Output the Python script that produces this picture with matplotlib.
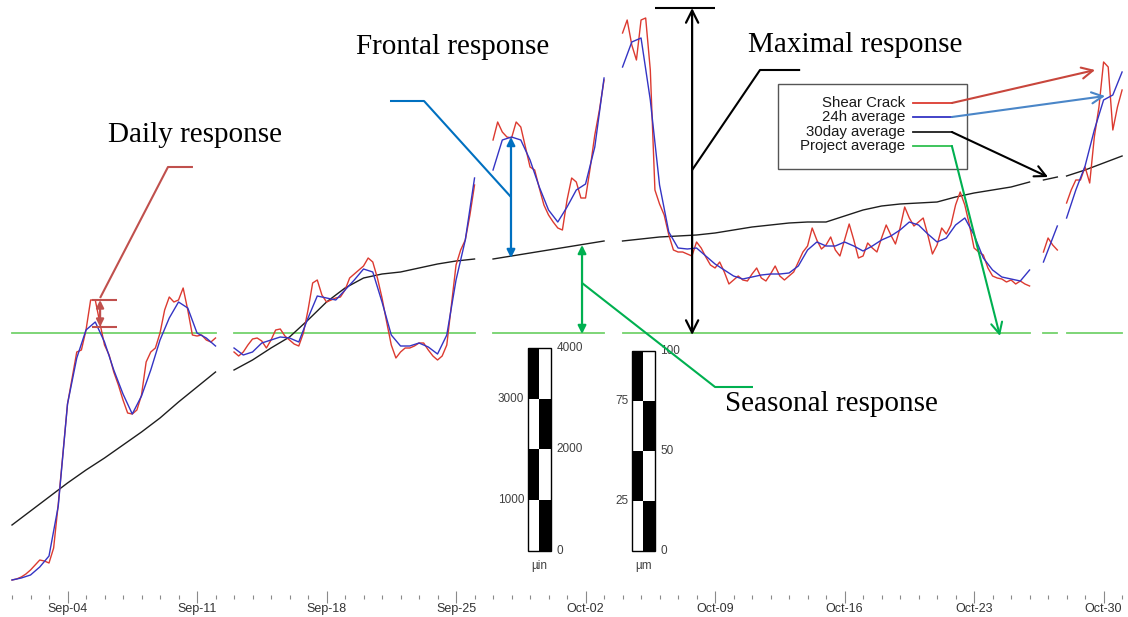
import datetime as dt

import numpy as np
import matplotlib
matplotlib.use("Agg")
import matplotlib.pyplot as plt
import matplotlib.dates as mdates
from matplotlib.patches import Rectangle

START = dt.datetime(2016, 9, 1)

# logger gaps split the record into these spans (days after Sep-01)
spans = [(0.0, 11.0), (12.0, 25.0), (26.0, 32.0), (33.0, 55.0),
         (55.75, 56.5), (57.0, 60.0)]

# shear crack opening, 6-hourly readings (um)
crack_a = [-1, -0.5, 0.5, 2, 4, 6.5, 9, 8.5, 7.5, 15, 37, 62, 87, 100, 113,
           114, 124, 139, 139, 127.5, 116.5, 111.5, 103, 96.5, 89, 82.5, 82,
           84, 91.5, 108, 113, 115, 122.5, 134, 140.5, 138, 139, 145, 134,
           121.5, 121, 121.5, 119, 118, 120]
crack_b = [113, 111, 113, 116.5, 119.5, 120, 118.5, 115, 119, 124, 124.5,
           121, 119, 117, 116, 122.5, 134, 147.5, 149, 141.5, 138, 139, 140,
           140.5, 144, 150, 152, 154, 156, 160, 158, 150, 140, 128, 116.5,
           110, 113, 115, 115, 116, 117.5, 117.5, 114, 111, 109, 111, 116.5,
           136.5, 156.5, 164, 169, 181.5, 196.5]
crack_c = [219, 228, 223, 220.5, 220, 228, 225.5, 215.5, 205.5, 204, 195,
           186.5, 181.5, 178, 175, 174, 189, 200, 198, 190, 190, 205, 221.5,
           234, 249]
crack_d = [272.5, 279, 266.5, 259, 279, 280, 254, 194, 187, 181.5, 171.5,
           164, 163, 163, 162, 161, 168, 165, 160.5, 156.5, 155, 158, 153,
           147, 149, 151, 149, 148.5, 152, 155, 150, 148.5, 152, 156, 151,
           149, 151, 153, 158, 163, 166, 175, 169, 164.5, 166.5, 170.5, 164,
           161, 169, 177, 169, 160, 161, 167.5, 165, 163, 170, 176.5, 171.5,
           167, 175, 185.5, 180, 176, 178, 180, 171.5, 162, 166.5, 175, 172,
           176.5, 186.5, 193, 186.5, 176.5, 165, 163, 161.5, 155, 151, 150,
           149.5, 148, 149, 147, 148.5, 147, 146]
crack_e = [163, 170, 166.5, 164]
crack_f = [187.5, 194, 199, 199, 205.5, 197.5, 220.5, 235.5, 258, 255.5,
           224, 235.5, 244]

# 24h moving average, 12-hourly (um)
avg24_a = [-1, 0, 1.5, 5.5, 11, 36, 87, 110, 124, 128, 118, 104, 92, 82, 91,
           104, 119, 130, 138, 135, 122.5, 120, 116]
avg24_b = [115, 111.5, 113, 117.5, 119, 120.5, 120, 118, 130, 141, 140, 139,
           144, 149, 154.5, 153, 138, 121.5, 116, 116, 117.5, 115.5, 112,
           121.5, 149, 169, 200]
avg24_c = [204, 219, 220.5, 219, 209, 195.5, 184, 178, 185.5, 194, 197,
           215.5, 250]
avg24_d = [255.5, 268, 270, 239, 196.5, 173, 165, 164.5, 165, 161, 157, 154,
           151, 149.5, 150.5, 151.5, 152, 152, 152.5, 156, 164, 168, 166,
           166, 168, 166, 163.5, 166, 169, 171, 174, 178, 176.5, 172, 168,
           170, 176.5, 180, 171.5, 160, 154, 150.5, 149.5, 148.5, 154]
avg24_e = [158, 164, 170, 176]
avg24_f = [180, 194, 206, 224, 239, 241.5, 253]

# 30 day moving average, daily (um)
avg30_a = [26.5, 33.5, 40.5, 47.5, 54, 60, 66.5, 73, 80, 88, 95.5, 103]
avg30_b = [104, 109, 115, 120.5, 129, 138, 145, 150, 152, 153, 155, 157,
           158.5, 159.5]
avg30_c = [159.5, 161, 162.5, 164, 165.5, 167, 168.5]
avg30_d = [168.5, 169.5, 170.5, 171, 171.5, 172.5, 174, 175.5, 176.5, 177.5,
           178, 178, 181, 184, 186, 187, 187.5, 188, 190.5, 192.5, 194,
           195.5, 198]
avg30_e = [199, 200.5]
avg30_f = [201, 204, 207.5, 211]

project_avg = 122.5

crack = [crack_a, crack_b, crack_c, crack_d, crack_e, crack_f]
avg24 = [avg24_a, avg24_b, avg24_c, avg24_d, avg24_e, avg24_f]
avg30 = [avg30_a, avg30_b, avg30_c, avg30_d, avg30_e, avg30_f]

# scale bar ticks
bar_uin = [0, 1000, 2000, 3000, 4000]
bar_um = [0, 25, 50, 75, 100]
UM_PER_UIN = 0.0254

RED = "#dc3a30"
BLUE = "#3434c4"
BLACK = "#1e1e1e"
GREEN = "#74d26c"


def day(d):
    return START + dt.timedelta(days=float(d))


def stamps(span, n):
    return [day(d) for d in np.linspace(span[0], span[1], n)]


plt.rcParams["font.family"] = ["Liberation Sans", "DejaVu Sans"]

fig = plt.figure(figsize=(11.28, 6.17), dpi=100)
ax = fig.add_axes([0, 20.5 / 617, 1, 596.5 / 617])

for span, r, b, k in zip(spans, crack, avg24, avg30):
    ax.plot(stamps(span, 2), [project_avg] * 2, color=GREEN, lw=1.3, zorder=2)
    ax.plot(stamps(span, len(k)), k, color=BLACK, lw=1.0, zorder=2)
    ax.plot(stamps(span, len(r)), r, color=RED, lw=1.0, zorder=3)
    ax.plot(stamps(span, len(b)), b, color=BLUE, lw=1.0, zorder=4)

ax.set_xlim(day(-0.649), day(60.32))
ax.set_ylim(-9.25, 289)
for s in ax.spines.values():
    s.set_visible(False)
ax.set_yticks([])
ax.xaxis.set_major_locator(mdates.WeekdayLocator(byweekday=mdates.SU))
ax.xaxis.set_minor_locator(mdates.DayLocator())
ax.xaxis.set_major_formatter(mdates.DateFormatter("%b-%d"))
ax.tick_params(axis="x", which="major", direction="inout", length=8,
               width=0.8, color="#8a8a8a", labelsize=9, labelcolor="#333333",
               pad=1)
ax.tick_params(axis="x", which="minor", direction="inout", length=3,
               width=0.8, color="#8a8a8a")


# checkerboard scale bars
def scale_bar(left, height, ticks, label):
    width = 1.24
    base = 13.5
    cell = height / 4
    for row in range(4):
        for col in range(2):
            black = (row % 2 == 1) if col == 0 else (row % 2 == 0)
            ax.add_patch(Rectangle((mdates.date2num(day(left + col * width / 2)),
                                    base + row * cell), width / 2, cell,
                                   facecolor="black" if black else "white",
                                   edgecolor="none", zorder=5))
    ax.add_patch(Rectangle((mdates.date2num(day(left)), base), width, height,
                           facecolor="none", edgecolor="black", lw=1.0,
                           zorder=6))
    for i, t in enumerate(ticks):
        y = base + i * cell
        if i % 2 == 0:
            ax.text(day(left + width + 0.3), y, str(t), ha="left",
                    va="center", fontsize=8.5, color="#404040")
        else:
            ax.text(day(left - 0.2), y, str(t), ha="right", va="center",
                    fontsize=8.5, color="#404040")
    ax.text(day(left + width / 2), base - 7.5, label, ha="center",
            va="center", fontsize=8.5, color="#404040")


scale_bar(27.89, bar_uin[-1] * UM_PER_UIN, bar_uin, "µin")
scale_bar(33.51, bar_um[-1], bar_um, "µm")

serif = ["Liberation Serif", "DejaVu Serif"]


def leader(points, color):
    ax.plot([day(p[0]) for p in points], [p[1] for p in points],
            color=color, lw=1.5, zorder=7, solid_capstyle="butt")


def double_arrow(x, y0, y1, color, style="<|-|>", scale=12):
    ax.annotate("", xy=(day(x), y0), xytext=(day(x), y1),
                arrowprops=dict(arrowstyle=style, color=color, lw=1.6,
                                mutation_scale=scale, shrinkA=0, shrinkB=0),
                zorder=7)


# daily response
c = "#c0504d"
ax.text(day(9.9), 221.5, "Daily response", family=serif, fontsize=21,
        ha="center", va="center")
leader([(9.78, 205.5), (8.43, 205.5), (4.76, 140)], c)
leader([(4.32, 139), (5.68, 139)], c)
leader([(4.32, 125.5), (5.68, 125.5)], c)
double_arrow(4.76, 139, 125.5, c, scale=11)

# frontal response
c = "#0070c0"
ax.text(day(23.84), 265.5, "Frontal response", family=serif, fontsize=21,
        ha="center", va="center")
leader([(20.43, 238.5), (22.27, 238.5), (26.97, 190.5)], c)
double_arrow(26.97, 220.5, 160, c)

# maximal response
c = "black"
ax.text(day(45.57), 266.5, "Maximal response", family=serif, fontsize=21,
        ha="center", va="center")
leader([(42.6, 254), (40.43, 254), (36.76, 204)], c)
leader([(34.76, 285), (38.0, 285)], c)
double_arrow(36.76, 285, 121.5, c, style="<->", scale=22)

# seasonal response
c = "#00b050"
ax.text(day(44.3), 87, "Seasonal response", family=serif, fontsize=21,
        ha="center", va="center")
leader([(30.81, 147.5), (38.0, 95.5), (40.05, 95.5)], c)
double_arrow(30.81, 166.5, 122, c)

# legend box with pointers to each series
ax.add_patch(Rectangle((mdates.date2num(day(41.4)), 204.5), 10.2, 42.5,
                       facecolor="white", edgecolor="#555555", lw=1.0,
                       zorder=6))
entries = [("Shear Crack", RED, 237.5, "#c8463c", (58.54, 254)),
           ("24h average", BLUE, 230.5, "#4a86c8", (59.08, 241)),
           ("30day average", BLACK, 223.0, "black", (56.0, 200.5)),
           ("Project average", "#2fbf4f", 216.0, "#00b050", (53.4, 121))]
for name, lc, y, ac, tip in entries:
    ax.text(day(48.27), y, name, ha="right", va="center", fontsize=10.8,
            color="#1a1a1a", zorder=8)
    ax.plot([day(48.7), day(50.8)], [y, y], color=lc, lw=1.3, zorder=8)
    ax.annotate("", xy=(day(tip[0]), tip[1]), xytext=(day(50.8), y),
                arrowprops=dict(arrowstyle="->", color=ac, lw=1.5,
                                mutation_scale=20, shrinkA=0, shrinkB=0),
                zorder=8)

fig.savefig("out.png", dpi=100)
